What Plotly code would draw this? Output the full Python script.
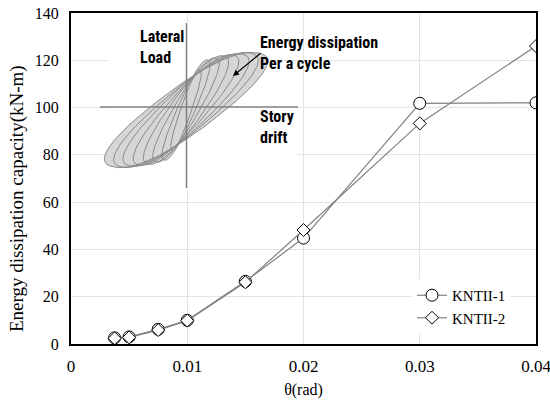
import numpy as np
import plotly.graph_objects as go

# ---------------- data ----------------
theta = [0.00375, 0.005, 0.0075, 0.01, 0.015, 0.02, 0.03, 0.04]
kntii1 = [2.6, 3.0, 6.2, 10.0, 26.5, 44.8, 101.8, 102.0]
kntii2 = [2.4, 2.8, 5.9, 9.9, 26.1, 48.2, 93.3, 126.0]
x_ticks = [0, 0.01, 0.02, 0.03, 0.04]
x_ticktext = ["0", "0.01", "0.02", "0.03", "0.04"]
y_ticks = [0, 20, 40, 60, 80, 100, 120, 140]
y_ticktext = ["0", "20", "40", "60", "80", "100", "120", "140"]

# inset (schematic hysteresis loops): tip x, tip y, side x, side y
loop_tip_x = [14, 22, 30, 38, 47, 56, 64, 72]
loop_tip_y = [40, 50, 52, 54, 55, 56, 57, 57]
loop_side_x = [-5, -8, -12, -16, -20, -24, -28, -32]
loop_side_y = [2, 3, 3, 4, 4, 5, 5, 6]

# ---------------- geometry helpers ----------------
L, R, T, B = 71, 14, 13, 57
W, H = 550, 401
PW, PH = W - L - R, H - T - B


def px(x):
    return (x - L) / PW


def py(y):
    return (H - B - y) / PH


def dx(x):
    return (x - L) / PW * 0.04


def dy(y):
    return (H - B - y) / PH * 140


SERIF = "Liberation Serif"
NARROW = "Liberation Sans Narrow, Arial Narrow, Roboto Condensed, Liberation Sans, sans-serif"

fig = go.Figure()

# ---------------- inset loops (x2/y2) ----------------
t = np.linspace(0, 2 * np.pi, 121)
c, s = np.cos(t), np.sin(t)
p = 0.85
cp = np.sign(c) * np.abs(c) ** p
sp = np.sign(s) * np.abs(s) ** p
loops = []
for A, Bt, a2, b2 in zip(loop_tip_x, loop_tip_y, loop_side_x, loop_side_y):
    lx = A * cp + a2 * sp
    ly = -3 + Bt * cp + b2 * sp
    loops.append((lx, ly))

for lx, ly in reversed(loops):
    fig.add_trace(go.Scatter(x=lx, y=ly, xaxis="x2", yaxis="y2", mode="lines",
                             fill="toself", fillcolor="#d6d6d6",
                             line=dict(color="rgba(0,0,0,0)", width=0),
                             showlegend=False, hoverinfo="skip"))
for lx, ly in loops:
    fig.add_trace(go.Scatter(x=lx, y=ly, xaxis="x2", yaxis="y2", mode="lines",
                             line=dict(color="#8a8a8a", width=1),
                             showlegend=False, hoverinfo="skip"))

# ---------------- main series ----------------
fig.add_trace(go.Scatter(
    x=theta, y=kntii1, name="KNTII-1", mode="lines+markers",
    line=dict(color="#808080", width=1.2),
    marker=dict(symbol="circle", size=12, color="white",
                line=dict(color="black", width=1)),
))
fig.add_trace(go.Scatter(
    x=theta, y=kntii2, name="KNTII-2", mode="lines+markers",
    line=dict(color="#808080", width=1.2),
    marker=dict(symbol="diamond", size=10, color="white",
                line=dict(color="black", width=1)),
))

# ---------------- shapes ----------------
shapes = [
    dict(type="rect", xref="x", yref="y", x0=dx(108), x1=dx(257), y0=dy(190), y1=dy(22),
         fillcolor="white", line=dict(width=0), layer="between"),
    dict(type="rect", xref="x", yref="y", x0=dx(257), x1=dx(297), y0=dy(190), y1=dy(95),
         fillcolor="white", line=dict(width=0), layer="between"),
    dict(type="line", xref="paper", yref="paper", x0=px(186.5), x1=px(186.5), y0=py(188), y1=py(23),
         line=dict(color="#7f7f7f", width=1.5)),
    dict(type="line", xref="paper", yref="paper", x0=px(100), x1=px(298), y0=py(107), y1=py(107),
         line=dict(color="#7f7f7f", width=1.5)),
]

annotations = [
    dict(text="Lateral<br>Load", x=px(138), y=py(47), xref="paper", yref="paper",
         xanchor="left", yanchor="middle", align="left", showarrow=False,
         font=dict(family=NARROW, size=16, color="black", weight="bold")),
    dict(text="Energy dissipation<br>Per a cycle", x=px(258), y=py(53), xref="paper", yref="paper",
         xanchor="left", yanchor="middle", align="left", showarrow=False,
         font=dict(family=NARROW, size=16, color="black", weight="bold")),
    dict(text="Story<br>drift", x=px(258), y=py(127), xref="paper", yref="paper",
         xanchor="left", yanchor="middle", align="left", showarrow=False,
         font=dict(family=NARROW, size=16, color="black", weight="bold")),
    dict(text="", x=px(233), y=py(76), xref="paper", yref="paper",
         showarrow=True, ax=29, ay=-24, arrowhead=2, arrowsize=1, arrowwidth=1.2,
         arrowcolor="black", standoff=0),
    dict(text="Energy dissipation capacity(kN-m)", x=px(17), y=py(199),
         xref="paper", yref="paper", showarrow=False, textangle=-90,
         xanchor="center", yanchor="middle",
         font=dict(family=SERIF, size=19, color="black")),
]

fig.update_layout(
    width=W, height=H, autosize=False,
    margin=dict(l=L, r=R, t=T, b=B, autoexpand=False),
    paper_bgcolor="white", plot_bgcolor="rgba(0,0,0,0)",
    font=dict(family=SERIF, size=15, color="black"),
    showlegend=True,
    legend=dict(x=px(412), y=py(279), xanchor="left", yanchor="top",
                bgcolor="white", font=dict(family=SERIF, size=15, color="black"),
                itemwidth=30, tracegroupgap=0),
    xaxis=dict(range=[0, 0.04], tickmode="array", tickvals=x_ticks, ticktext=x_ticktext,
               showgrid=True, gridcolor="#e3e3e3", gridwidth=1,
               showline=True, linecolor="black", linewidth=2, mirror=True,
               zeroline=False, ticks="outside", ticklen=6, tickcolor="rgba(0,0,0,0)",
               tickfont=dict(family=SERIF, size=17, color="black"),
               ticklabeloverflow="allow", automargin=False,
               title=dict(text="θ(rad)", standoff=8, font=dict(family=SERIF, size=16)),
               fixedrange=True),
    yaxis=dict(range=[0, 140], tickmode="array", tickvals=y_ticks, ticktext=y_ticktext,
               showgrid=True, gridcolor="#e3e3e3", gridwidth=1,
               showline=True, linecolor="black", linewidth=2, mirror=True,
               zeroline=False, ticks="outside", ticklen=7, tickcolor="rgba(0,0,0,0)",
               tickfont=dict(family=SERIF, size=16, color="black"),
               ticklabeloverflow="allow", automargin=False,
               fixedrange=True),
    xaxis2=dict(domain=[px(100), px(300)], range=[-86, 114], anchor="y2",
                visible=False, showgrid=False, zeroline=False, fixedrange=True),
    yaxis2=dict(domain=[py(190), py(20)], range=[-83, 87], anchor="x2",
                visible=False, showgrid=False, zeroline=False, fixedrange=True),
    shapes=shapes,
    annotations=annotations,
)

fig.write_html("out.html")
